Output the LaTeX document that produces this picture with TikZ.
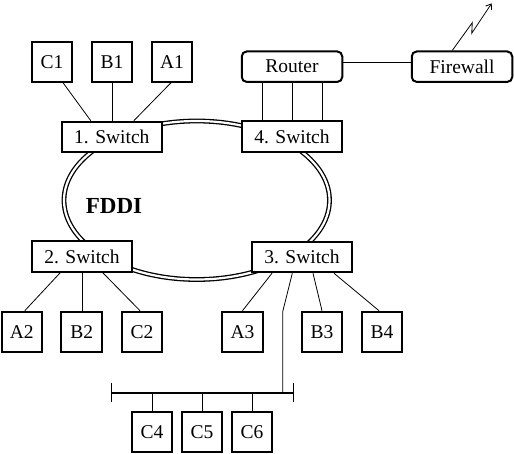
\documentclass[tikz,border=0pt]{standalone}
\usepackage{fontspec}
\setmainfont{Liberation Serif}
\usetikzlibrary{arrows.meta}
\begin{document}
\begin{tikzpicture}[x=1pt,y=-1pt,
  box/.style={draw,line width=2pt,fill=white,inner sep=0pt,minimum width=40.5pt,minimum height=40pt,font=\fontsize{19.5}{22}\selectfont},
  sw/.style={draw,line width=2pt,fill=white,inner sep=0pt,minimum width=100.5pt,minimum height=30.5pt,font=\fontsize{19.5}{22}\selectfont},
  rbox/.style={sw,rounded corners=5pt},
  wire/.style={line width=0.8pt},
  ring/.style={line width=1.3pt,double=white,double distance=2.2pt}]
\useasboundingbox (0,0) rectangle (514,454);
% FDDI ring
\draw[ring] (196.75,200.25) ellipse [x radius=132.75, y radius=79.25];
\node[font=\fontsize{23}{25}\selectfont\bfseries] (fddi) at (114,205.5) {FDDI};
% switches and devices
\node[sw] (sw1) at (111.8,137) {1. Switch};
\node[sw] (sw4) at (292,136.7) {4. Switch};
\node[sw] (sw2) at (82,256.7) {2. Switch};
\node[sw] (sw3) at (302,257) {3. Switch};
\node[rbox] (router) at (292,66.7) {Router};
\node[rbox] (fw) at (462,66.7) {Firewall};
\node[box] (c1) at (52,61.7) {C1};
\node[box] (b1) at (112,61.7) {B1};
\node[box] (a1) at (172,61.7) {A1};
\node[box] (a2) at (21.8,331.7) {A2};
\node[box] (b2) at (81.7,331.7) {B2};
\node[box] (c2) at (142,331.7) {C2};
\node[box] (a3) at (242.5,331.7) {A3};
\node[box] (b3) at (322,331.7) {B3};
\node[box] (b4) at (382,331.7) {B4};
\node[box] (c4) at (152,432) {C4};
\node[box] (c5) at (202,432) {C5};
\node[box] (c6) at (252,432) {C6};
% switch 1 links
\draw[wire] ([xshift=11pt]c1.south) -- ([xshift=-21pt]sw1.north);
\draw[wire] (b1.south) -- (b1.south |- sw1.north);
\draw[wire] ([xshift=-1pt]a1.south) -- ([xshift=22pt]sw1.north);
% router links
\draw[wire] ([xshift=-29.7pt]router.south) -- ([xshift=-29.7pt]sw4.north);
\draw[wire] (router.south) -- (sw4.north);
\draw[wire] ([xshift=30.3pt]router.south) -- ([xshift=30.3pt]sw4.north);
\draw[wire] ([yshift=4.4pt]router.east) -- ([yshift=4.4pt]fw.west);
% lightning
\coordinate (l1) at (472.3,22.7);
\coordinate (l2) at (471.7,33.3);
\coordinate (l3) at (491.7,3.3);
\draw[wire,-{Straight Barb[length=5pt,width=7pt]}] ([xshift=-9.7pt]fw.north) -- (l1) -- (l2) -- (l3);
% switch 2 links
\draw[wire] ([xshift=-22pt]sw2.south) -- ([xshift=3pt]a2.north);
\draw[wire] (sw2.south) -- (sw2.south |- b2.north);
\draw[wire] ([xshift=21pt]sw2.south) -- ([xshift=-2pt]c2.north);
% switch 3 links
\draw[wire] ([xshift=-30pt]sw3.south) -- (a3.north);
\draw[wire] ([xshift=11pt]sw3.south) -- (b3.north);
\draw[wire] ([xshift=32pt]sw3.south) -- ([xshift=-3pt]b4.north);
% bus
\coordinate (busL) at (111.7,392.7);
\coordinate (busR) at (293.3,392.7);
\coordinate (bend) at (282.7,311.7);
\draw[line width=2pt] (busL) -- (busR);
\draw[wire] ([yshift=10pt]busL) -- ([yshift=-9pt]busL);
\draw[wire] ([yshift=10pt]busR) -- ([yshift=-9pt]busR);
\draw[wire] ([xshift=-9.7pt]sw3.south) -- (bend) -- (bend |- busL);
\draw[wire] (c4.north |- busL) -- (c4.north);
\draw[wire] (c5.north |- busL) -- (c5.north);
\draw[wire] (c6.north |- busL) -- (c6.north);
\end{tikzpicture}
\end{document}
